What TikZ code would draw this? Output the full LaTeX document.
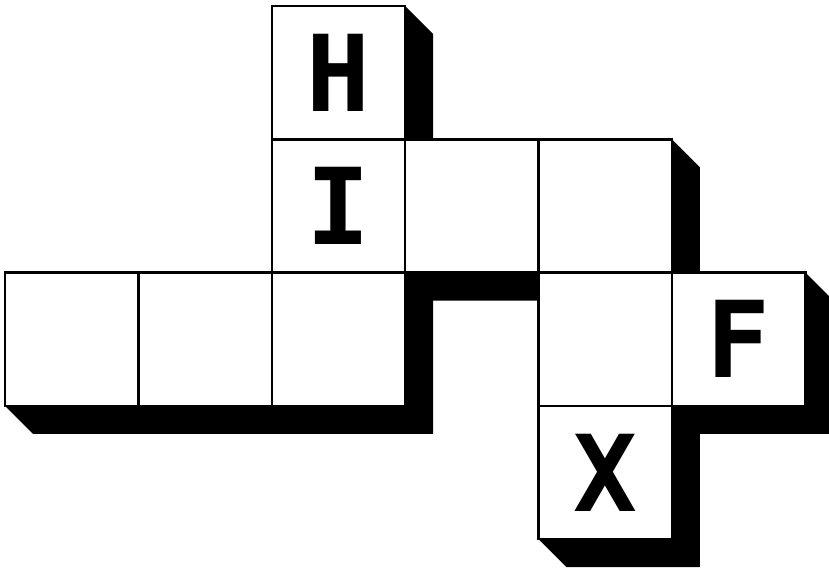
\documentclass[tikz,border=0pt]{standalone}
\usepackage{fontspec}
\newfontfamily\lettfont{DejaVu Sans Mono}[BoldFont={DejaVu Sans Mono Bold}]
\usetikzlibrary{backgrounds}
\begin{document}
\begin{tikzpicture}[x=1pt,y=-1pt,
  cell/.style={draw=black, line width=2.4pt, fill=white, minimum size=133.3pt,
    inner sep=0pt, outer sep=0pt, font=\lettfont\bfseries\fontsize{106}{106}\selectfont},
  shadowfill/.style={fill=black}]
\useasboundingbox (0,0) rectangle (829,571);
\clip (0,0) rectangle (829,571);
% cells: col/row/name/letter
\foreach \c/\r/\n/\t in {2/0/h/H, 2/1/i/I, 3/1/b/{}, 4/1/c/{}, 0/2/d/{}, 1/2/e/{}, 2/2/g/{}, 4/2/k/{}, 5/2/f/F, 4/3/x/X}{
  \node[cell] (\n) at ({5+133.4*(\c+0.5)},{6+133.3*(\r+0.5)}) {\t};
}
\begin{scope}[on background layer]
\foreach \n in {h,i,b,c,d,e,g,k,f,x}{
  \fill[shadowfill] (\n.north west) -- (\n.north east) -- ([shift={(28,28)}]\n.north east)
    -- ([shift={(28,28)}]\n.south east) -- ([shift={(28,28)}]\n.south west)
    -- (\n.south west) -- cycle;
}
\end{scope}
\end{tikzpicture}
\end{document}
